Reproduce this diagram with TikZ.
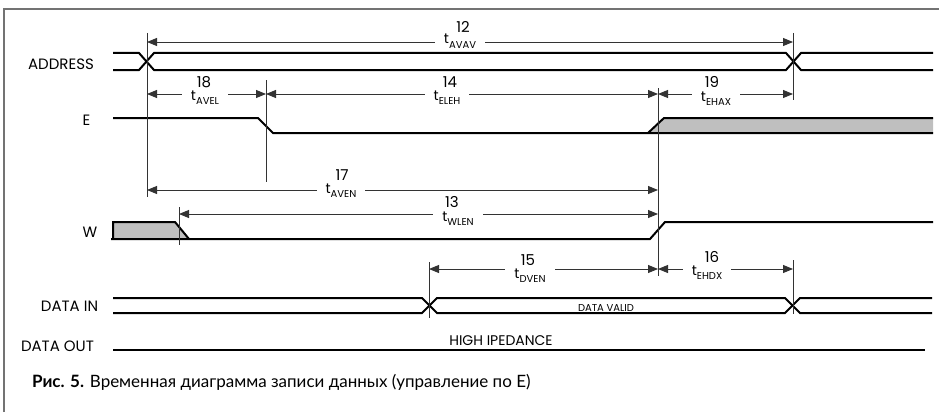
\documentclass[tikz,border=0pt]{standalone}
\usepackage{fontspec}
\setmainfont{Poppins}
\newfontfamily\capfont{Lato}
\usetikzlibrary{arrows.meta}
\newcommand\fs[1]{\fontsize{#1}{#1}\selectfont}
\newcommand\tmlab[7]{%
  \node[tlab] (#1) at (#2,#3) {t\raisebox{-4.5pt}{\fs{10}#4}};
  \node[numlab] (#1n) at (#5,#6) {#7};}
\begin{document}
\begin{tikzpicture}[x=1pt,y=-1pt,
  sig/.style={line width=2pt, line join=miter},
  vline/.style={line width=0.9pt, draw=black!80},
  dimarr/.style={line width=0.9pt, draw=black!80,
     {Triangle[length=10pt,width=8pt]}-{Triangle[length=10pt,width=8pt]}},
  tlab/.style={anchor=base, fill=white, inner xsep=9pt, inner ysep=0pt, font=\fs{14}},
  numlab/.style={anchor=base, inner sep=0pt, font=\fs{15}},
  signame/.style={anchor=base, inner sep=0pt, font=\fs{15}},
  frame/.style={line width=1.3pt, draw=black!55},
  shade/.style={fill=gray!50}]
\useasboundingbox (0,0) rectangle (939,412);
% frame
\draw[frame] (4,412) -- (4,9) -- (939,9);
% signal names
\node[signame] (lAddr) at (61,70) {ADDRESS};
\node[signame] (lE) at (86.5,125) {E};
\node[signame] (lW) at (90,237) {W};
\node[signame] (lDin) at (69.5,311) {DATA IN};
\node[signame] (lDout) at (57.5,351) {DATA OUT};
% ADDRESS
\draw[sig] (113,53) -- (139,53) -- (154,70) -- (786,70) -- (801,53) -- (933,53);
\draw[sig] (113,70) -- (139,70) -- (154,53) -- (786,53) -- (801,70) -- (933,70);
% E
\fill[shade] (648,133) -- (664,118) -- (933,118) -- (933,133) -- cycle;
\draw[sig] (113,118) -- (258,118) -- (273,133) -- (933,133);
\draw[sig] (648,133) -- (664,118) -- (933,118);
% W
\fill[shade] (113,222) -- (175,222) -- (189,239) -- (113,239) -- cycle;
\draw[sig] (113,239) -- (113,222) -- (175,222) -- (189,239);
\draw[sig] (111,239) -- (650,239) -- (665,222) -- (933,222);
% DATA IN
\draw[sig] (113,298) -- (422,298) -- (437,313) -- (785,313) -- (800,298) -- (932,298);
\draw[sig] (113,313) -- (422,313) -- (437,298) -- (785,298) -- (800,313) -- (932,313);
\node[anchor=base, inner sep=0pt, font=\fs{10}] (dv) at (606,311) {DATA VALID};
% DATA OUT
\draw[line width=1.8pt] (113,350) -- (925,350);
\node[anchor=base, inner sep=0pt, font=\fs{14}] (hi) at (501,345) {HIGH IPEDANCE};
% reference verticals
\coordinate (v1t) at (147,33);  \coordinate (v1b) at (147,197);
\coordinate (v2t) at (793,33);  \coordinate (v2b) at (793,100);
\coordinate (v3t) at (266,80);  \coordinate (v3b) at (266,182);
\coordinate (v4t) at (658,88);  \coordinate (v4b) at (658,276);
\coordinate (v5t) at (179,207); \coordinate (v5b) at (179,245);
\coordinate (v6t) at (429,262); \coordinate (v6b) at (429,318);
\coordinate (v7t) at (793,260); \coordinate (v7b) at (793,314);
\foreach \v in {1,...,7} \draw[vline] (v\v t) -- (v\v b);
% arrow end points
\coordinate (a12l) at (147,42);  \coordinate (a12r) at (793,42);
\coordinate (a18l) at (147,94);  \coordinate (a18r) at (266,94);
\coordinate (a14r) at (658,94);  \coordinate (a19r) at (793,94);
\coordinate (a17l) at (147,190); \coordinate (a17r) at (658,190);
\coordinate (a13l) at (179,214); \coordinate (a13r) at (658,214);
\coordinate (a15l) at (429,269); \coordinate (a15r) at (658,269);
\coordinate (a16r) at (793,269);
\draw[dimarr] (a12l) -- (a12r);
\draw[dimarr] (a18l) -- (a18r);
\draw[dimarr] (a18r) -- (a14r);
\draw[dimarr] (a14r) -- (a19r);
\draw[dimarr] (a17l) -- (a17r);
\draw[dimarr] (a13l) -- (a13r);
\draw[dimarr] (a15l) -- (a15r);
\draw[dimarr] (a15r) -- (a16r);
% timing labels
\tmlab{t12}{460}{44}{AVAV}{463}{33}{12}
\tmlab{t18}{205}{100}{AVEL}{204}{88}{18}
\tmlab{t14}{447}{100}{ELEH}{450}{88}{14}
\tmlab{t19}{716}{101}{EHAX}{712}{87}{19}
\tmlab{t17}{341}{193}{AVEN}{342}{180}{17}
\tmlab{t13}{458}{221}{WLEN}{452}{207}{13}
\tmlab{t15}{530}{278}{DVEN}{528}{265}{15}
\tmlab{t16}{707}{275}{EHDX}{712}{262}{16}
% caption
\node[anchor=base west, inner sep=0pt, font=\capfont\fs{17}] (cap) at (32,387)
  {\textbf{Рис. 5.} Временная диаграмма записи данных (управление по E)};
\end{tikzpicture}
\end{document}
